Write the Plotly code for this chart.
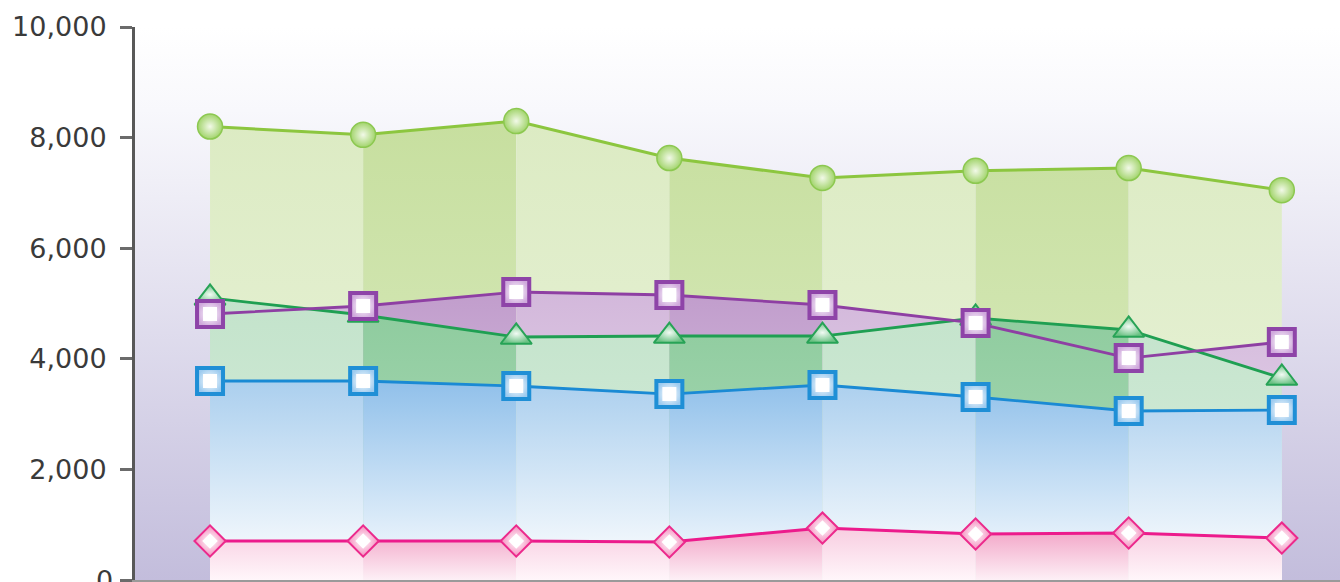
import base64
import plotly.graph_objects as go

# ---------------- data ----------------
categories = ["1", "2", "3", "4", "5", "6", "7", "8"]
series_circle = [8200, 8050, 8300, 7630, 7270, 7400, 7450, 7050]    # light green, circles
series_purple = [4810, 4955, 5208, 5154, 4973, 4647, 4014, 4304]    # purple, squares
series_triangle = [5100, 4792, 4394, 4412, 4412, 4738, 4521, 3653]  # green, triangles
series_blue = [3599, 3599, 3508, 3363, 3526, 3309, 3056, 3074]      # blue, squares
series_pink = [705, 705, 705, 687, 940, 832, 850, 759]              # pink, diamonds
y_tick_values = [0, 2000, 4000, 6000, 8000, 10000]
y_tick_labels = ["0", "2,000", "4,000", "6,000", "8,000", "10,000"]

# ---------------- styles ----------------
styles = {
    "circle": dict(values=series_circle, line="#8cc63f", lw=3,
                   fill_light=["#eaf3dc", "#dcebc3"], fill_dark=["#dcecc4", "#c7df9f"],
                   symbol="circle", size=25, mcolor="#a2d46c", mgrad="#f2f9e8",
                   mline="#8cc850", mlw=1.5, inner=None),
    "purple": dict(values=series_purple, line="#8e3fa3", lw=2.8,
                   fill_light=["#ece0f0", "#d3b8db"], fill_dark=["#e0cfe8", "#c19dcc"],
                   symbol="square", size=26, mcolor="#cfa9dc", mgrad="#ffffff",
                   mline="#8e44a8", mlw=4, inner=14),
    "triangle": dict(values=series_triangle, line="#1f9f52", lw=2.8,
                     fill_light=["#d8eedd", "#c3e3cb"], fill_dark=["#b0dcbb", "#8dcb9d"],
                     symbol="triangle-up", size=27, mcolor="#6cc285", mgrad="#f2fbf4",
                     mline="#27a356", mlw=2, inner=None),
    "blue": dict(values=series_blue, line="#1a8ad4", lw=2.8,
                 fill_light=["#ffffff", "#abcfee"], fill_dark=["#fbfdff", "#90c0ea"],
                 symbol="square", size=26, mcolor="#9dcbef", mgrad="#ffffff",
                 mline="#1f8fd6", mlw=4, inner=14),
    "pink": dict(values=series_pink, line="#ec1b8c", lw=3,
                 fill_light=["#fff6fa", "#f8cde0"], fill_dark=["#fdf0f6", "#f2a2c5"],
                 symbol="diamond", size=24, mcolor="#f48cbd", mgrad="#ffffff",
                 mline="#ec2a8c", mlw=2, inner=12),
}
fill_order = ["circle", "purple", "triangle", "blue", "pink"]
line_order = ["circle", "triangle", "purple", "blue", "pink"]

fig = go.Figure()

# area fills, one segment at a time (alternating light / dark bands)
for key in fill_order:
    st = styles[key]
    vals = st["values"]
    top = max(vals)
    for i in range(len(categories) - 1):
        cols = st["fill_dark"] if i % 2 == 1 else st["fill_light"]
        fig.add_trace(go.Scatter(
            x=[categories[i], categories[i + 1]],
            y=[vals[i], vals[i + 1]],
            mode="none",
            fill="tozeroy",
            fillgradient=dict(type="vertical", colorscale=[[0, cols[0]], [1, cols[1]]],
                              start=0, stop=top),
            hoverinfo="skip",
            showlegend=False,
        ))

# lines and markers
for key in line_order:
    st = styles[key]
    fig.add_trace(go.Scatter(
        x=categories,
        y=st["values"],
        mode="lines+markers",
        line=dict(color=st["line"], width=st["lw"]),
        marker=dict(symbol=st["symbol"], size=st["size"], color=st["mcolor"],
                    gradient=dict(type="radial", color=st["mgrad"]),
                    line=dict(color=st["mline"], width=st["mlw"])),
        showlegend=False,
        cliponaxis=False,
    ))
    if st["inner"]:
        fig.add_trace(go.Scatter(
            x=categories,
            y=st["values"],
            mode="markers",
            marker=dict(symbol=st["symbol"], size=st["inner"], color="#ffffff",
                        line=dict(width=0)),
            showlegend=False,
            cliponaxis=False,
        ))

# plot-area background gradient (white at top to lavender at bottom)
svg = ("<svg xmlns='http://www.w3.org/2000/svg' width='100' height='100' "
       "preserveAspectRatio='none' viewBox='0 0 100 100'><defs>"
       "<linearGradient id='g' x1='0' y1='0' x2='0' y2='1'>"
       "<stop offset='0' stop-color='#ffffff'/>"
       "<stop offset='0.15' stop-color='#f8f8fc'/>"
       "<stop offset='1' stop-color='#c3bddc'/>"
       "</linearGradient></defs>"
       "<rect width='100' height='100' fill='url(#g)'/></svg>")
bg_src = "data:image/svg+xml;base64," + base64.b64encode(svg.encode()).decode()

tick_font = dict(family="DejaVu Sans", size=27, color="#3a3a3a")

fig.update_layout(
    width=1340, height=582,
    margin=dict(l=135, r=0, t=27, b=2),
    paper_bgcolor="#ffffff",
    plot_bgcolor="rgba(0,0,0,0)",
    images=[dict(source=bg_src, xref="paper", yref="paper", x=0, y=1,
                 sizex=1, sizey=1, sizing="stretch", layer="below",
                 xanchor="left", yanchor="top")],
    xaxis=dict(type="category", range=[-0.49, 7.38], showticklabels=False,
               ticks="", showgrid=False, zeroline=False,
               showline=True, linecolor="#9a9a9a", linewidth=2),
    yaxis=dict(range=[0, 10000], tickvals=y_tick_values, ticktext=y_tick_labels,
               ticks="outside", ticklen=12, tickwidth=3, tickcolor="#6b6b6b",
               showline=True, linecolor="#585858", linewidth=3,
               showgrid=False, zeroline=False, ticklabelstandoff=8,
               tickfont=tick_font),
    annotations=[dict(text=y_tick_labels[0], xref="paper", yref="y", x=0,
                      y=y_tick_values[0], xanchor="right", yanchor="middle",
                      xshift=-20, showarrow=False, font=tick_font)],
    hovermode=False,
)

fig.write_html("out.html")
